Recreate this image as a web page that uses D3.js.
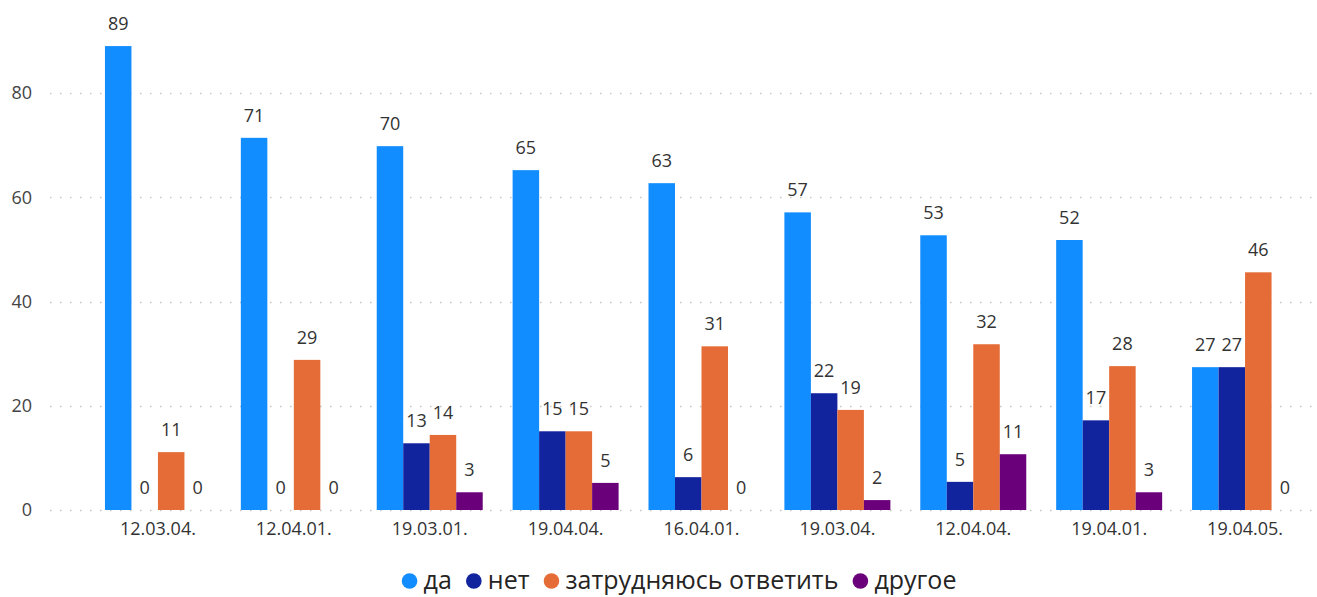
<!DOCTYPE html>
<html>
<head>
<meta charset="utf-8">
<script src="https://cdn.jsdelivr.net/npm/d3@7"></script>
<style>
  body { margin: 0; background: #fff; }
  svg { display: block; font-family: "Open Sans", "Noto Sans", sans-serif; }
</style>
</head>
<body>
<svg width="1317" height="597"></svg>
<script>
// survey dates (x axis)
let categories = ["12.03.04.", "12.04.01.", "19.03.01.", "19.04.04.", "16.04.01.", "19.03.04.", "12.04.04.", "19.04.01.", "19.04.05."];

// answers
let seriesNames = ["да", "нет", "затрудняюсь ответить", "другое"];
let da     = [89, 71.4, 69.8, 65.2, 62.7, 57.1, 52.7, 51.8, 27.4];
let net    = [0, 0, 12.8, 15.1, 6.3, 22.4, 5.4, 17.2, 27.4];
let zatr   = [11.1, 28.8, 14.4, 15.1, 31.4, 19.2, 31.8, 27.6, 45.6];
let drugoe = [0, 0, 3.4, 5.2, 0, 1.9, 10.7, 3.4, 0];
let yTicks = [0, 20, 40, 60, 80];

let colors = ["#118DFF", "#12239E", "#E66C37", "#6B007B"];
let series = [da, net, zatr, drugoe];

let svg = d3.select("svg"),
    plot = {left: 50, right: 1313, x0: 90, x1: 1313, top: 93, bottom: 510};

let x = d3.scaleBand()
    .domain(categories)
    .range([plot.x0, plot.x1])
    .paddingInner(0.22)
    .paddingOuter(0.11);

let x1 = d3.scaleBand()
    .domain(seriesNames)
    .range([0, x.bandwidth()]);

let y = d3.scaleLinear()
    .domain([0, 80])
    .range([plot.bottom, plot.top]);

let fmt = d3.format(".0f");

// gridlines
svg.append("g")
    .attr("class", "grid")
    .selectAll("line")
    .data(yTicks)
    .join("line")
    .attr("x1", plot.left)
    .attr("x2", plot.right)
    .attr("y1", d => Math.round(y(d)) + 0.5)
    .attr("y2", d => Math.round(y(d)) + 0.5)
    .attr("stroke", "#c8c6c4")
    .attr("stroke-width", 1.5)
    .attr("stroke-dasharray", "1.5,8.5");

// y axis labels
let yAxis = svg.append("g")
    .attr("transform", "translate(32,0)")
    .call(d3.axisLeft(y).tickValues(yTicks).tickSize(0).tickPadding(0));
yAxis.select(".domain").remove();
yAxis.selectAll("text")
    .attr("fill", "#444")
    .style("font-size", "18px")
    .style("font-family", "Open Sans");

// x axis labels
let xAxis = svg.append("g")
    .attr("transform", "translate(0," + plot.bottom + ")")
    .call(d3.axisBottom(x).tickSize(0).tickPadding(8));
xAxis.select(".domain").remove();
xAxis.selectAll("text")
    .attr("fill", "#333")
    .attr("dy", "0.95em")
    .style("font-size", "18px")
    .style("font-family", "Open Sans");

// bars
let rows = categories.map((c, i) => ({
    cat: c,
    vals: seriesNames.map((s, j) => ({key: s, value: series[j][i], color: colors[j]}))
}));

let groups = svg.append("g")
    .selectAll("g")
    .data(rows)
    .join("g")
    .attr("transform", d => "translate(" + x(d.cat) + ",0)");

groups.selectAll("rect")
    .data(d => d.vals)
    .join("rect")
    .attr("x", d => x1(d.key))
    .attr("width", x1.bandwidth())
    .attr("y", d => y(d.value))
    .attr("height", d => y(0) - y(d.value))
    .attr("fill", d => d.color);

groups.selectAll("text")
    .data(d => d.vals)
    .join("text")
    .attr("x", d => x1(d.key) + x1.bandwidth() / 2)
    .attr("y", d => y(d.value) - 16)
    .attr("text-anchor", "middle")
    .attr("fill", "#333")
    .style("font-size", "18px")
    .text(d => fmt(d.value));

// legend
let legend = svg.append("g");
let pos = 0;
let items = legend.selectAll("g")
    .data(seriesNames)
    .join("g");
items.append("circle")
    .attr("r", 7.8)
    .attr("cx", 8)
    .attr("fill", (d, i) => colors[i]);
items.append("text")
    .attr("x", 22)
    .attr("y", 8)
    .attr("fill", "#252423")
    .style("font-size", "25px")
    .text(d => d);
items.each(function () {
    let w = d3.select(this).select("text").node().getComputedTextLength();
    d3.select(this).attr("transform", "translate(" + pos + ",0)");
    pos += 22 + w + 14;
});
let total = pos - 14;
legend.attr("transform", "translate(" + (679 - total / 2) + ",581)");
</script>
</body>
</html>
